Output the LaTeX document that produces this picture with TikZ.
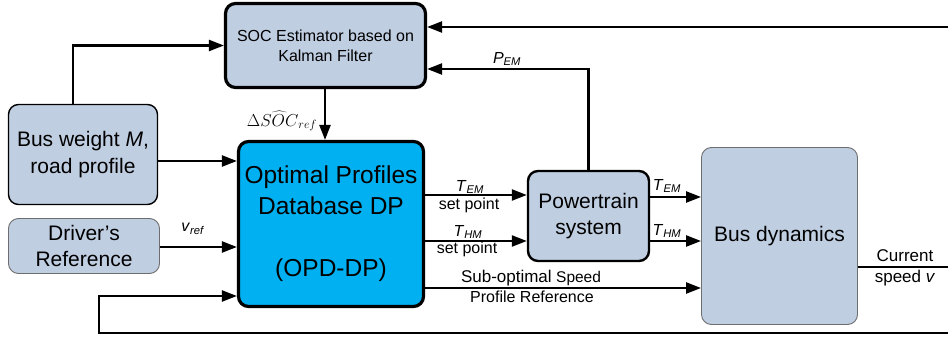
\documentclass[tikz,border=0pt]{standalone}
\usepackage{fontspec}
\setmainfont{Liberation Sans}
\usetikzlibrary{arrows.meta,calc}
\definecolor{boxfill}{RGB}{192,206,226}
\definecolor{opdfill}{RGB}{0,176,240}
\definecolor{softedge}{RGB}{110,110,110}
\newcommand{\fsz}[2]{\fontsize{#1}{#2}\selectfont}
\tikzset{
  blk/.style={draw, fill=boxfill, rounded corners=10pt, align=center, inner sep=0pt},
  heavy/.style={blk, line width=3.2pt},
  arr/.style={line width=2.3pt, -{Triangle[length=15pt,width=11pt]}},
  wire/.style={line width=2.3pt},
  lbl/.style={inner sep=0pt, font=\fsz{16}{19}},
}
\begin{document}
\begin{tikzpicture}[x=1pt,y=-1pt]
\useasboundingbox (0,0) rectangle (948,342);

% blocks
\node[heavy, minimum width=200pt, minimum height=84pt, font=\fsz{16}{20}]
  (SOC) at (325.5,45.5) {SOC Estimator based on\\Kalman Filter};
\node[blk, line width=1.4pt, minimum width=149pt, minimum height=100pt, font=\fsz{21}{27}]
  (BW) at (83,154.5) {Bus weight \textit{M},\\road profile};
\node[blk, draw=softedge, line width=0.9pt, minimum width=151pt, minimum height=55pt, font=\fsz{21}{26}]
  (DR) at (84,246) {Driver’s\\Reference};
\node[heavy, fill=opdfill, minimum width=185pt, minimum height=165pt, font=\fsz{24.5}{31}]
  (OPD) at (331,224) {Optimal Profiles\\Database DP\\[31pt](OPD-DP)};
\node[blk, line width=2.4pt, minimum width=121pt, minimum height=90pt, font=\fsz{21}{26}]
  (PT) at (588.5,216) {Powertrain\\system};
\node[blk, draw=softedge, line width=0.9pt, minimum width=156pt, minimum height=177pt, font=\fsz{21}{26}]
  (BD) at (779.5,236) {Bus dynamics};

% free ends at the right edge
\coordinate (topR) at (948,27);
\coordinate (fbR) at (948,333);
\coordinate (outR) at (948,267);

% connectors
\draw[arr] ($(BW.north)+(-10,0)$) |- (SOC.west);
\draw[arr] (BW.east |- 0,161) -- (OPD.west |- 0,161);
\draw[arr] (DR.east |- 0,247) -- (OPD.west |- 0,247);
\draw[arr] (fbR) -- (99,333) |- (OPD.west |- 0,296);
\draw[arr] (topR) -- (SOC.east |- topR);
\draw[arr] (PT.north) |- (SOC.east |- 0,69);
\draw[arr] (SOC.south -| 325,0) -- (OPD.north -| 325,0);
\draw[arr] (OPD.east |- 0,195) -- (PT.west |- 0,195);
\draw[arr] (OPD.east |- 0,241) -- (PT.west |- 0,241);
\draw[arr] (OPD.east |- 0,288) -- (BD.west |- 0,288);
\draw[arr] (PT.east |- 0,197) -- (BD.west |- 0,197);
\draw[arr] (PT.east |- 0,241) -- (BD.west |- 0,241);
\draw[wire] (BD.east |- outR) -- (outR);

% connector labels
\node[lbl, font=\fsz{17.5}{20}] (lsoc) at (282,121) {$\Delta\widehat{SOC}_{ref}$};
\node[lbl] (lpem) at (507,59) {\textit{P}\textsubscript{\textit{EM}}};
\node[lbl] (lvref) at (193,229) {\textit{v}\textsubscript{\textit{ref}}};
\node[lbl] (ltem1) at (470,187) {\textit{T}\textsubscript{\textit{EM}}};
\node[lbl] (lsp1) at (469,205) {set point};
\node[lbl] (lthm1) at (468,232) {\textit{T}\textsubscript{\textit{HM}}};
\node[lbl] (lsp2) at (467,249) {set point};
\node[lbl] (ltem2) at (667,186) {\textit{T}\textsubscript{\textit{EM}}};
\node[lbl] (lthm2) at (667,231) {\textit{T}\textsubscript{\textit{HM}}};
\node[lbl] (lsub) at (531,278) {{\fsz{17}{20}Sub-optimal} {\fsz{15.5}{19}Speed}};
\node[lbl] (lprof) at (532,297) {Profile Reference};
\node[lbl, font=\fsz{17}{20}] (lcur) at (905,256) {Current};
\node[lbl, font=\fsz{17}{20}] (lspd) at (905,278) {speed \textit{v}};
\end{tikzpicture}
\end{document}
